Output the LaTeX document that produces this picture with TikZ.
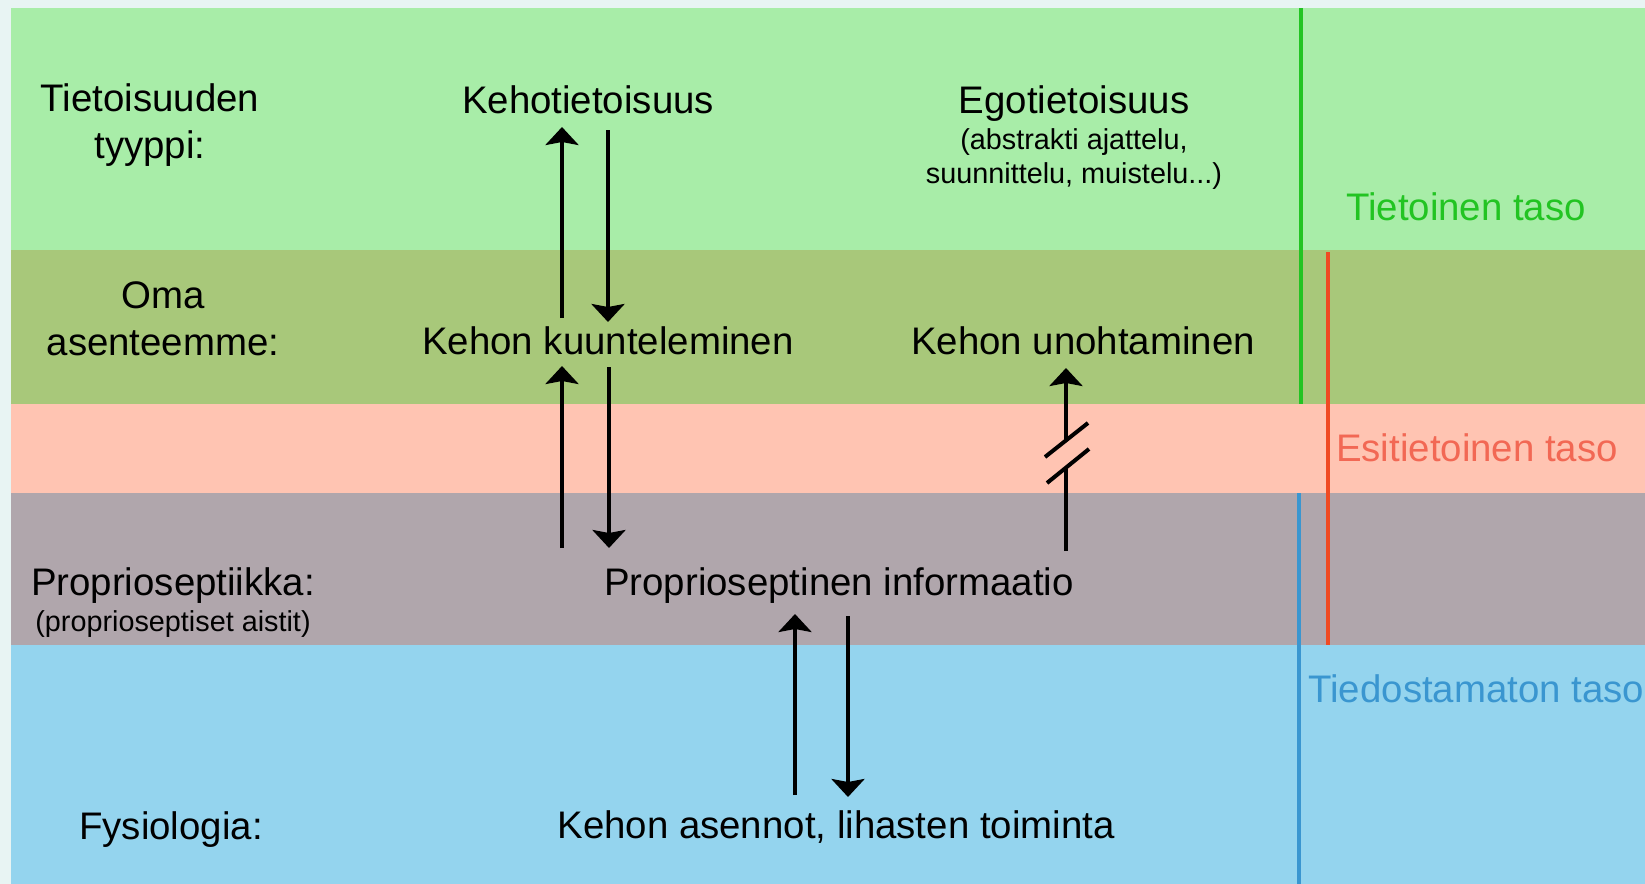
\documentclass[tikz,border=0pt]{standalone}
\usepackage{fontspec}
\setmainfont{Liberation Sans}
\usetikzlibrary{arrows.meta}
\definecolor{bgc}{RGB}{232,244,243}
\definecolor{bandgreen}{RGB}{168,237,168}
\definecolor{bandolive}{RGB}{168,200,122}
\definecolor{bandpink}{RGB}{255,196,178}
\definecolor{bandgrey}{RGB}{176,166,172}
\definecolor{bandblue}{RGB}{148,212,238}
\definecolor{lvlgreen}{RGB}{34,196,34}
\definecolor{lvlred}{RGB}{240,74,34}
\definecolor{lvlblue}{RGB}{58,150,208}
\definecolor{txtred}{RGB}{242,104,84}
\begin{document}
\begin{tikzpicture}[x=0.5pt,y=-0.5pt,
  big/.style={font=\fontsize{19.2}{23.5}\selectfont, align=center, inner sep=0pt},
  small/.style={font=\fontsize{14.4}{17.3}\selectfont, align=center, inner sep=0pt},
  arr/.style={line width=2pt, -{Stealth[length=9pt,width=16.5pt,inset=1.5pt]}},
  shaft/.style={line width=2pt},
  lvl/.style={line width=2pt}]
\useasboundingbox (0,0) rectangle (1645,884);
\fill[bgc] (0,0) rectangle (1645,884);
% bands
\fill[bandgreen] (11,8) rectangle (1645,250);
\fill[bandolive] (11,250) rectangle (1645,404);
\fill[bandpink] (11,404) rectangle (1645,493);
\fill[bandgrey] (11,493) rectangle (1645,645);
\fill[bandblue] (11,645) rectangle (1645,884);
% level lines
\draw[lvl, lvlgreen] (1301,8) -- (1301,404);
\draw[lvl, lvlred] (1328,252) -- (1328,645);
\draw[lvl, lvlblue, line width=1.6pt] (1299,493) -- (1299,884);
% level labels
\node[big, text=lvlgreen] (ltiet) at (1466,207) {Tietoinen taso};
\node[big, text=txtred] (lesit) at (1477,448) {Esitietoinen taso};
\node[big, text=lvlblue, anchor=west] (ltied) at (1308,689) {Tiedostamaton taso};
% left column
\node[big] (ltype) at (150,125) {Tietoisuuden\\tyyppi:};
\node[big] (latt) at (163,319) {Oma\\asenteemme:};
\node[big] (lprop) at (173,586) {Proprioseptiikka:};
\node[small] (lpropb) at (173,624) {(proprioseptiset aistit)};
\node[big] (lfys) at (171,830) {Fysiologia:};
% middle
\node[big] (keho) at (588,100) {Kehotietoisuus};
\node[big] (ego) at (1074,104) {Egotietoisuus};
\node[small] (egob) at (1074,159) {(abstrakti ajattelu,\\suunnittelu, muistelu...)};
\node[big] (kuunt) at (608,341) {Kehon kuunteleminen};
\node[big] (unoht) at (1083,341) {Kehon unohtaminen};
\node[big] (info) at (839,586) {Proprioseptinen informaatio};
\node[big] (asen) at (836,827) {Kehon asennot, lihasten toiminta};
% arrow end points
\coordinate (a1s) at (562,318); \coordinate (a1e) at (562,127);
\coordinate (a2s) at (608,130); \coordinate (a2e) at (608,322);
\coordinate (a3s) at (562,548); \coordinate (a3e) at (562,366);
\coordinate (a4s) at (609,367); \coordinate (a4e) at (609,548);
\coordinate (a5s) at (1066,551); \coordinate (a5g) at (1066,468);
\coordinate (a5h) at (1066,440); \coordinate (a5e) at (1066,368);
\coordinate (a6s) at (795,795); \coordinate (a6e) at (795,614);
\coordinate (a7s) at (848,616); \coordinate (a7e) at (848,797);
% arrows
\draw[arr] (a1s) -- (a1e);
\draw[arr] (a2s) -- (a2e);
\draw[arr] (a3s) -- (a3e);
\draw[arr] (a4s) -- (a4e);
\draw[shaft] (a5s) -- (a5g);
\draw[arr] (a5h) -- (a5e);
\draw[shaft] (1045,457) -- (1088,423);
\draw[shaft] (1047,483) -- (1089,449);
\draw[arr] (a6s) -- (a6e);
\draw[arr] (a7s) -- (a7e);
\end{tikzpicture}
\end{document}
